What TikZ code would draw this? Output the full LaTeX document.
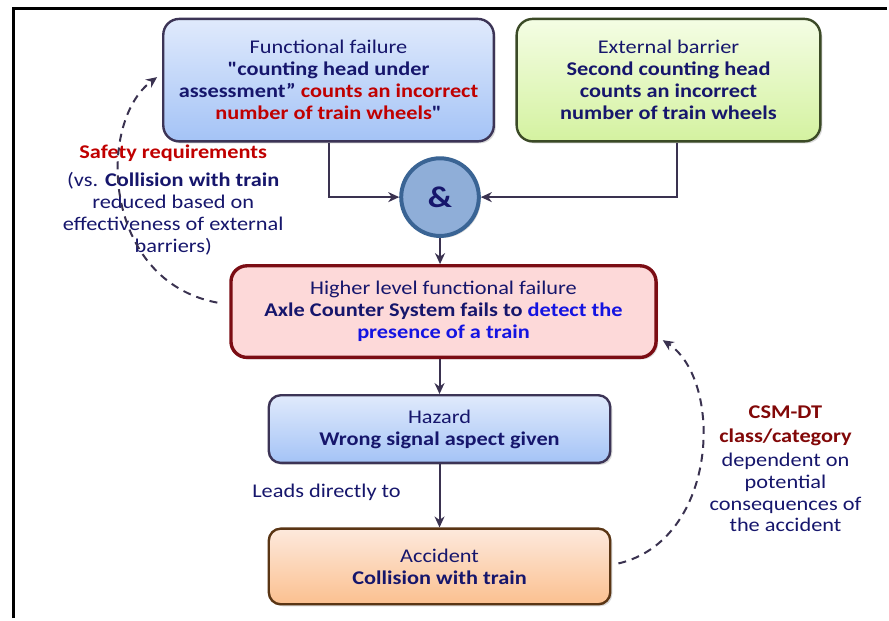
\documentclass[tikz,border=0pt]{standalone}
\usepackage{fontspec}
\setmainfont{Carlito}[FakeStretch=1.15, Ligatures=TeXOff]
\usetikzlibrary{arrows.meta,shadows}

\definecolor{navy}{RGB}{22,22,108}
\definecolor{alarm}{RGB}{192,0,0}
\definecolor{maroon}{RGB}{130,8,8}
\definecolor{vivid}{RGB}{20,20,225}
\definecolor{linkc}{RGB}{58,50,80}
\definecolor{blueTop}{RGB}{224,234,252}
\definecolor{blueBot}{RGB}{164,195,246}
\definecolor{blueEdge}{RGB}{60,52,86}
\definecolor{greenTop}{RGB}{244,253,228}
\definecolor{greenBot}{RGB}{212,242,160}
\definecolor{greenEdge}{RGB}{59,74,38}
\definecolor{pinkFill}{RGB}{253,217,217}
\definecolor{pinkEdge}{RGB}{123,13,20}
\definecolor{orangeTop}{RGB}{253,233,220}
\definecolor{orangeBot}{RGB}{251,192,144}
\definecolor{orangeEdge}{RGB}{90,53,20}
\definecolor{gateFill}{RGB}{143,174,216}
\definecolor{gateEdge}{RGB}{58,100,148}

\begin{document}
\begin{tikzpicture}[x=1pt,y=-1pt,
  txt/.style={font=\fontsize{19.5}{22}\selectfont, text=navy, align=center},
  box/.style={txt, rounded corners=16pt, line width=2.4pt, inner sep=0pt,
    drop shadow={shadow xshift=2pt, shadow yshift=-2pt, opacity=0.3}},
  bluebox/.style={box, draw=blueEdge, top color=blueTop, bottom color=blueBot},
  link/.style={draw=linkc, line width=2pt,
    -{Stealth[length=11pt,width=10pt,inset=3.5pt]}},
  feedback/.style={link, dash pattern=on 8pt off 6pt},
]
% white page background
\fill[white] (-2,-2) rectangle (891,621);
\useasboundingbox (0,0) rectangle (889,619);

% frame
\draw[line width=3pt] (12,619) -- (12,7) -- (889,7);

% functional failure
\node[bluebox, minimum width=332pt, minimum height=123pt] (ff) at (328,78.5)
  {Functional failure\\
   \textbf{"counting head under}\\
   \textbf{assessment” \textcolor{alarm}{counts an incorrect}}\\
   \textbf{\textcolor{alarm}{number of train wheels}"}};

% external barrier
\node[box, draw=greenEdge, top color=greenTop, bottom color=greenBot,
  minimum width=305pt, minimum height=123pt] (eb) at (669.5,78.5)
  {External barrier\\
   \textbf{Second counting head}\\
   \textbf{counts an incorrect}\\
   \textbf{number of train wheels}};

% AND gate
\node[circle, draw=gateEdge, fill=gateFill, line width=4pt, minimum size=78pt,
  inner sep=0pt, font=\fontsize{30}{30}\selectfont\bfseries, text=navy,
  drop shadow={shadow xshift=2pt, shadow yshift=-2pt, opacity=0.3}]
  (amp) at (440,196) {\&};

% higher level functional failure
\node[box, draw=pinkEdge, fill=pinkFill, line width=3.4pt,
  minimum width=427pt, minimum height=92pt] (hl) at (443.5,311)
  {Higher level functional failure\\
   \textbf{Axle Counter System fails to \textcolor{vivid}{detect the}}\\
   \textbf{\textcolor{vivid}{presence of a train}}};

% hazard
\node[bluebox, rounded corners=12pt, minimum width=343pt, minimum height=68pt]
  (hz) at (439.5,429)
  {Hazard\\ \textbf{Wrong signal aspect given}};

% accident
\node[box, rounded corners=12pt, draw=orangeEdge, top color=orangeTop,
  bottom color=orangeBot, minimum width=343pt, minimum height=76pt]
  (ac) at (439.5,567)
  {Accident\\ \textbf{Collision with train}};

% labels
\node[txt] (lead) at (326,493) {Leads directly to};

\node[txt] (sr) at (172,199)
  {\textcolor{alarm}{\textbf{Safety requirements}}\\[6pt]
   (vs. \textbf{Collision with train}\\
   reduced based on\\
   effectiveness of external\\
   barriers)};

\node[txt] (csm) at (787,469)
  {\textcolor{maroon}{\textbf{CSM-DT}}\\[2pt]
   \textcolor{maroon}{\textbf{class/category}}\\[2pt]
   dependent on\\
   potential\\
   consequences of\\
   the accident};

% connectors
\draw[link] (ff.south) |- (amp.west);
\draw[link] ([xshift=8.5pt]eb.south) |- (amp.east);
\draw[link] (amp.south) -- (amp.south |- hl.north);
\draw[link] (hz.north |- hl.south) -- (hz.north);
\draw[link] (hz.south) -- (ac.north);

% feedback arcs
\draw[feedback] ([shift={(-12,-9)}]hl.west)
  .. controls (100,280) and (95,120) .. ([shift={(-5,-3)}]ff.west);
\draw[feedback] ([shift={(7,-3)}]ac.east)
  .. controls (720,540) and (725,380) .. ([shift={(5,-19)}]hl.south east);
\end{tikzpicture}
\end{document}
